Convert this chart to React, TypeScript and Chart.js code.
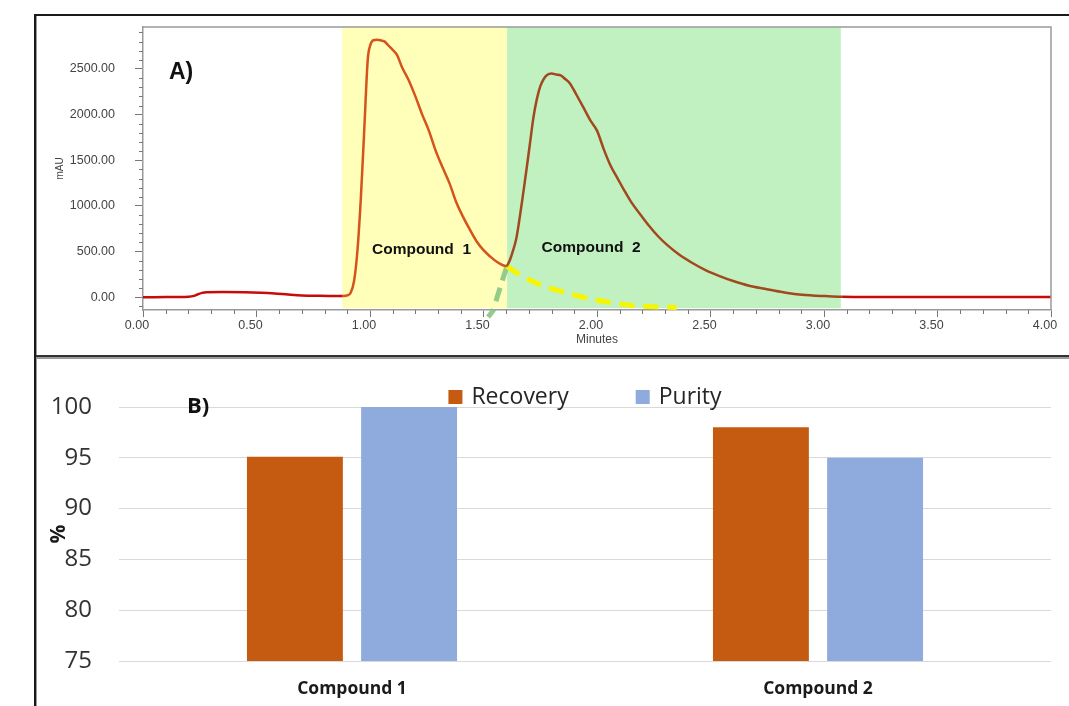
import React, { useEffect, useRef } from 'react';
import { Chart, registerables } from 'chart.js';

Chart.register(...registerables);

// ---------- Panel A: chromatogram ----------
const TIME = [
  0.0, 0.05, 0.1, 0.15, 0.2, 0.22, 0.24, 0.26, 0.28, 0.35, 0.45, 0.52, 0.58, 0.64, 0.7, 0.78, 0.85, 0.88,
  0.9, 0.915, 0.93, 0.945, 0.96, 0.975, 0.99, 1.0, 1.015, 1.03, 1.05, 1.065, 1.08, 1.1, 1.12, 1.14, 1.17,
  1.2, 1.23, 1.26, 1.29, 1.32, 1.35, 1.38, 1.41, 1.44, 1.47, 1.5, 1.53, 1.56, 1.585, 1.6,
  1.615, 1.63, 1.645, 1.66, 1.675, 1.69, 1.705, 1.72, 1.735, 1.75, 1.765, 1.78, 1.8, 1.82, 1.84, 1.86,
  1.88, 1.91, 1.94, 1.97, 2.0, 2.03, 2.06, 2.09, 2.12, 2.15, 2.19, 2.23, 2.27, 2.31, 2.36, 2.42, 2.48,
  2.54, 2.6, 2.67, 2.74, 2.81, 2.88, 2.95, 3.02, 3.08, 3.2, 3.5, 3.8, 4.0,
];
const SIGNAL = [
  0, 1, 2, 3, 6, 12, 30, 48, 55, 56, 55, 50, 42, 30, 20, 15, 13, 14,
  20, 50, 180, 520, 1100, 1850, 2600, 2750, 2815, 2820, 2812, 2800, 2760, 2710, 2650, 2525, 2380,
  2200, 2000, 1820, 1600, 1420, 1250, 1040, 880, 740, 610, 515, 445, 385, 350, 342,
  400, 510, 650, 880, 1140, 1410, 1690, 1970, 2170, 2310, 2390, 2435, 2450, 2440, 2430, 2390,
  2345, 2215, 2080, 1940, 1825, 1620, 1440, 1305, 1170, 1045, 910, 780, 665, 570, 470, 375, 295,
  232, 178, 126, 92, 60, 33, 20, 11, 4, 2, 2, 2, 2,
];
// extrapolated tail of compound 1 (yellow dashed)
const TAIL1_TIME = [1.602, 1.65, 1.705, 1.78, 1.852, 1.93, 2.0, 2.07, 2.145, 2.25, 2.351];
const TAIL1_SIGNAL = [340, 260, 186, 110, 58, 5, -33, -62, -88, -105, -113];
// extrapolated front of compound 2 (green dashed)
const TAIL2_TIME = [1.602, 1.58, 1.56, 1.543, 1.52];
const TAIL2_SIGNAL = [332, 160, 0, -143, -216];

const REGION_START = [0.877, 1.604];
const REGION_END = [1.604, 3.074];
const REGION_FLOOR = -120;
const REGION_LABELS = ['Compound  1', 'Compound  2'];
const REGION_LABEL_X = [1.227, 1.974];
const REGION_LABEL_Y = [515, 540];

const X_TICKS = [0, 0.5, 1, 1.5, 2, 2.5, 3, 3.5, 4];
const Y_TICKS = [0, 500, 1000, 1500, 2000, 2500];

// ---------- Panel B: bars ----------
const CATEGORIES = ['Compound 1', 'Compound 2'];
const RECOVERY = [95.1, 98.0];
const PURITY = [100, 95.0];
const B_TICKS = [75, 80, 85, 90, 95, 100];

const REGION_FILL = ['#ffffba', '#c1f0c1'];
const REGION_TRACE = ['#d6531b', '#a2481f'];
const BASELINE_COLOR = '#c70a0a';

const xy = (xs: number[], ys: number[]) => xs.map((x, i) => ({ x, y: ys[i] }));

function traceColor(x: number) {
  for (let i = 0; i < REGION_START.length; i++) {
    if (x >= REGION_START[i] && x < REGION_END[i]) return REGION_TRACE[i];
  }
  return BASELINE_COLOR;
}

const regionsPlugin = {
  id: 'regions',
  beforeDatasetsDraw(chart: any) {
    const { ctx, chartArea, scales } = chart;
    const x = scales.x, y = scales.y;
    ctx.save();
    const yb = y.getPixelForValue(REGION_FLOOR);
    REGION_START.forEach((s, i) => {
      const x0 = x.getPixelForValue(s);
      const x1 = x.getPixelForValue(REGION_END[i]);
      ctx.fillStyle = REGION_FILL[i];
      ctx.fillRect(x0, chartArea.top, x1 - x0, yb - chartArea.top);
    });
    ctx.restore();
  },
  afterDatasetsDraw(chart: any) {
    const { ctx, chartArea, scales } = chart;
    const x = scales.x, y = scales.y;
    ctx.save();
    ctx.fillStyle = '#111';
    ctx.textBaseline = 'middle';
    ctx.textAlign = 'center';
    ctx.font = 'bold 15.5px "Liberation Sans", Arial, sans-serif';
    REGION_LABELS.forEach((t, i) => {
      ctx.fillText(t, x.getPixelForValue(REGION_LABEL_X[i]), y.getPixelForValue(REGION_LABEL_Y[i]));
    });
    ctx.textAlign = 'left';
    ctx.font = 'bold 23px "Liberation Sans", Arial, sans-serif';
    ctx.fillText('A)', chartArea.left + 26, chartArea.top + 46);
    ctx.restore();
  },
  afterDraw(chart: any) {
    const { ctx, chartArea, scales } = chart;
    const x = scales.x, y = scales.y;
    ctx.save();
    // plot frame (top and right)
    ctx.strokeStyle = '#9a9a9a';
    ctx.lineWidth = 1.5;
    ctx.beginPath();
    ctx.moveTo(chartArea.left, chartArea.top);
    ctx.lineTo(chartArea.right, chartArea.top);
    ctx.lineTo(chartArea.right, chartArea.bottom);
    ctx.stroke();
    // minor ticks
    ctx.strokeStyle = '#777';
    ctx.lineWidth = 1;
    ctx.beginPath();
    for (let k = 1; k < 40; k++) {
      if (k % 5 === 0) continue;
      const px = Math.round(x.getPixelForValue(k / 10)) + 0.5;
      ctx.moveTo(px, chartArea.bottom);
      ctx.lineTo(px, chartArea.bottom + 4);
    }
    for (let k = -1; k <= 29; k++) {
      if (k % 5 === 0) continue;
      const py = Math.round(y.getPixelForValue(k * 100)) + 0.5;
      if (py < chartArea.top || py > chartArea.bottom) continue;
      ctx.moveTo(chartArea.left - 4, py);
      ctx.lineTo(chartArea.left, py);
    }
    ctx.stroke();
    ctx.restore();
  },
};

const barDecorPlugin = {
  id: 'barDecor',
  afterDraw(chart: any) {
    const { ctx, chartArea } = chart;
    ctx.save();
    ctx.font = '23px "Open Sans", sans-serif';
    ctx.textBaseline = 'middle';
    ctx.textAlign = 'left';
    const items = chart.data.datasets.map((d: any) => ({ text: d.label, color: d.backgroundColor }));
    const box = 14, gap = 9, itemGap = 67;
    const widths = items.map((it: any) => box + gap + ctx.measureText(it.text).width);
    const total = widths.reduce((a: number, b: number) => a + b, 0) + itemGap * (items.length - 1);
    let cx = (chartArea.left + chartArea.right) / 2 - total / 2;
    const yc = chartArea.top - 10;
    items.forEach((it: any, i: number) => {
      ctx.fillStyle = it.color;
      ctx.fillRect(cx, yc - box / 2, box, box);
      ctx.fillStyle = '#262626';
      ctx.fillText(it.text, cx + box + gap, yc);
      cx += widths[i] + itemGap;
    });
    ctx.font = 'bold 22px "Open Sans", sans-serif';
    ctx.fillStyle = '#111';
    ctx.fillText('B)', chartArea.left + 68, chartArea.top);
    ctx.restore();
  },
};

export default function App() {
  const refA = useRef<HTMLCanvasElement>(null);
  const refB = useRef<HTMLCanvasElement>(null);

  useEffect(() => {
    const chartA = new Chart(refA.current as HTMLCanvasElement, {
      type: 'scatter',
      data: {
        datasets: [
          {
            label: 'Signal',
            data: xy(TIME, SIGNAL),
            showLine: true,
            pointRadius: 0,
            borderWidth: 2.5,
            borderColor: BASELINE_COLOR,
            cubicInterpolationMode: 'monotone',
            segment: {
              borderColor: (c: any) => traceColor((c.p0.parsed.x + c.p1.parsed.x) / 2),
            },
            order: 0,
          } as any,
          {
            label: 'Compound 1 tail',
            data: xy(TAIL1_TIME, TAIL1_SIGNAL),
            showLine: true,
            pointRadius: 0,
            borderWidth: 5,
            borderColor: '#f6f600',
            borderDash: [15, 9],
            cubicInterpolationMode: 'monotone',
            order: 1,
          } as any,
          {
            label: 'Compound 2 front',
            data: xy(TAIL2_TIME, TAIL2_SIGNAL),
            showLine: true,
            pointRadius: 0,
            borderWidth: 5,
            borderColor: 'rgba(128,195,128,0.85)',
            borderDash: [14, 8],
            tension: 0.2,
            clip: { left: 0, top: 0, right: 0, bottom: 10 },
            order: 2,
          } as any,
        ],
      },
      options: {
        responsive: false,
        animation: false,
        layout: { padding: { top: 11, right: 18, left: 0, bottom: 0 } },
        plugins: { legend: { display: false }, tooltip: { enabled: false } },
        scales: {
          x: {
            type: 'linear',
            min: 0,
            max: 4,
            afterBuildTicks: (s: any) => { s.ticks = X_TICKS.map((v) => ({ value: v })); },
            afterFit: (s: any) => { s.height = 45; },
            ticks: {
              callback: (v: any) => Number(v).toFixed(2),
              font: { family: '"Liberation Sans", Arial, sans-serif', size: 12.5 },
              color: '#444',
              padding: 1,
              labelOffset: -6,
              maxRotation: 0,
              autoSkip: false,
            },
            grid: { drawOnChartArea: false, tickLength: 7, color: '#777' },
            border: { color: '#9a9a9a', width: 1.5 },
            title: {
              display: true,
              text: 'Minutes',
              font: { family: '"Liberation Sans", Arial, sans-serif', size: 12 },
              color: '#444',
              padding: { top: 0, bottom: 8 },
            },
          },
          y: {
            type: 'linear',
            min: -140,
            max: 2960,
            afterBuildTicks: (s: any) => { s.ticks = Y_TICKS.map((v) => ({ value: v })); },
            afterFit: (s: any) => { s.width = 106; s.paddingTop = 0; s.paddingBottom = 0; },
            ticks: {
              callback: (v: any) => Number(v).toFixed(2),
              font: { family: '"Liberation Sans", Arial, sans-serif', size: 12.5 },
              color: '#444',
              padding: 20,
            },
            grid: { drawOnChartArea: false, tickLength: 8, color: '#777' },
            border: { color: '#9a9a9a', width: 1.5 },
            title: {
              display: true,
              text: 'mAU',
              font: { family: '"Liberation Sans", Arial, sans-serif', size: 10 },
              color: '#444',
              padding: { top: 17, bottom: 0 },
            },
          },
        },
      } as any,
      plugins: [regionsPlugin],
    });

    const chartB = new Chart(refB.current as HTMLCanvasElement, {
      type: 'bar',
      data: {
        labels: CATEGORIES,
        datasets: [
          { label: 'Recovery', data: RECOVERY, backgroundColor: '#c55a11', categoryPercentage: 0.49, barPercentage: 0.84 },
          { label: 'Purity', data: PURITY, backgroundColor: '#8faadc', categoryPercentage: 0.49, barPercentage: 0.84 },
        ],
      },
      options: {
        responsive: false,
        animation: false,
        layout: { padding: { top: 48, right: 18, left: 0, bottom: 0 } },
        plugins: { legend: { display: false }, tooltip: { enabled: false } },
        scales: {
          x: {
            grid: { display: false },
            border: { display: false },
            afterFit: (s: any) => { s.height = 45; },
            ticks: {
              font: { family: '"Open Sans", sans-serif', size: 17.5, weight: 'bold' },
              color: '#1a1a1a',
              padding: 10,
            },
          },
          y: {
            min: 75,
            max: 100,
            afterBuildTicks: (s: any) => { s.ticks = B_TICKS.map((v) => ({ value: v })); },
            afterFit: (s: any) => { s.width = 82; s.paddingTop = 0; s.paddingBottom = 0; },
            ticks: {
              font: { family: '"Open Sans", sans-serif', size: 24 },
              color: '#333',
              padding: 27,
            },
            grid: { color: '#d9d9d9', lineWidth: 1, drawTicks: false },
            border: { display: false },
            title: {
              display: true,
              text: '%',
              font: { family: '"Open Sans", sans-serif', size: 21, weight: 'bold' },
              color: '#1a1a1a',
              padding: { top: 9, bottom: 0 },
            },
          },
        },
      } as any,
      plugins: [barDecorPlugin],
    });

    return () => {
      chartA.destroy();
      chartB.destroy();
    };
  }, []);

  return (
    <div style={{ position: 'absolute', left: 0, top: 0, width: 1069, height: 706, background: '#fff', overflow: 'hidden' }}>
      <div style={{ position: 'absolute', left: 35, top: 14, width: 1034, height: 2, background: '#1a1a1a' }} />
      <div style={{ position: 'absolute', left: 34, top: 14, width: 2, height: 692, background: '#1a1a1a' }} />
      <div style={{ position: 'absolute', left: 36, top: 16, width: 1, height: 690, background: '#9a9a9a' }} />
      <div style={{ position: 'absolute', left: 36, top: 355, width: 1033, height: 2, background: '#333' }} />
      <div style={{ position: 'absolute', left: 36, top: 357, width: 1033, height: 2, background: '#9a9a9a' }} />
      <canvas ref={refA} width={1032} height={339} style={{ position: 'absolute', left: 37, top: 16, width: 1032, height: 339 }} />
      <canvas ref={refB} width={1032} height={347} style={{ position: 'absolute', left: 37, top: 359, width: 1032, height: 347 }} />
    </div>
  );
}
